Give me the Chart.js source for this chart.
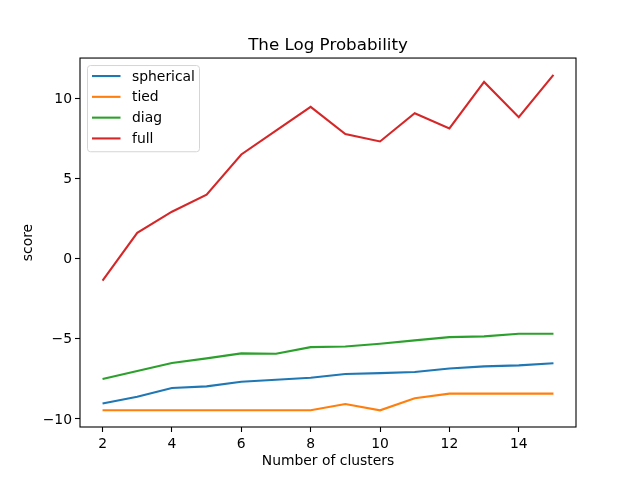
<!DOCTYPE html>
<html>
<head>
<meta charset="utf-8">
<script src="https://cdn.jsdelivr.net/npm/chart.js@4"></script>
<style>
  html, body { margin: 0; padding: 0; background: #fff; }
  canvas { display: block; }
</style>
</head>
<body>
<canvas id="chart" width="640" height="480"></canvas>
<script>
// number of clusters on x, log probability score per covariance type
const clusters = [2, 3, 4, 5, 6, 7, 8, 9, 10, 11, 12, 13, 14, 15];
const spherical = [-9.04, -8.61, -8.07, -7.97, -7.68, -7.55, -7.43, -7.20, -7.14, -7.07, -6.85, -6.72, -6.66, -6.53];
const tied = [-9.46, -9.46, -9.46, -9.46, -9.46, -9.46, -9.46, -9.07, -9.46, -8.71, -8.42, -8.42, -8.42, -8.42];
const diag = [-7.51, -7.01, -6.51, -6.22, -5.91, -5.93, -5.52, -5.48, -5.31, -5.10, -4.90, -4.85, -4.69, -4.69];
const full = [-1.37, 1.60, 2.92, 3.98, 6.49, 7.97, 9.46, 7.76, 7.30, 9.06, 8.11, 11.01, 8.81, 11.45];

const xTicks = [2, 4, 6, 8, 10, 12, 14];
const yTicks = [-10, -5, 0, 5, 10];

const FONT = 'DejaVu Sans';

function points(vals) {
  return clusters.map((c, i) => ({ x: c, y: vals[i] }));
}

function series(label, vals, color) {
  return {
    label: label,
    data: points(vals),
    borderColor: color,
    backgroundColor: color,
    borderWidth: 2.1,
    pointRadius: 0,
    tension: 0,
    fill: false
  };
}

// matplotlib style box around the axes
const frame = {
  id: 'frame',
  afterDraw(chart) {
    const { ctx, chartArea: a } = chart;
    ctx.save();
    ctx.strokeStyle = '#000';
    ctx.lineWidth = 1.1;
    ctx.strokeRect(a.left, a.top, a.right - a.left, a.bottom - a.top);
    ctx.restore();
  }
};

// legend inside the upper left corner
const innerLegend = {
  id: 'innerLegend',
  afterDraw(chart) {
    const { ctx, chartArea: a } = chart;
    const sets = chart.data.datasets;
    const x0 = a.left + 7.5, y0 = a.top + 7.5;
    const w = 112, rowH = 20.8, h = sets.length * rowH + 3;
    ctx.save();
    ctx.beginPath();
    ctx.roundRect(x0, y0, w, h, 3);
    ctx.fillStyle = 'rgba(255,255,255,0.8)';
    ctx.fill();
    ctx.strokeStyle = '#d5d5d5';
    ctx.lineWidth = 1;
    ctx.stroke();
    ctx.font = '13.9px "' + FONT + '"';
    ctx.textBaseline = 'middle';
    sets.forEach((ds, i) => {
      const y = y0 + 10.5 + i * rowH;
      ctx.strokeStyle = ds.borderColor;
      ctx.lineWidth = 2.1;
      ctx.beginPath();
      ctx.moveTo(x0 + 4.5, y);
      ctx.lineTo(x0 + 33, y);
      ctx.stroke();
      ctx.fillStyle = '#000';
      ctx.fillText(ds.label, x0 + 44.5, y + 1);
    });
    ctx.restore();
  }
};

const minus = v => String(v).replace('-', '\u2212');

new Chart(document.getElementById('chart'), {
  type: 'line',
  data: {
    datasets: [
      series('spherical', spherical, '#1f77b4'),
      series('tied', tied, '#ff7f0e'),
      series('diag', diag, '#2ca02c'),
      series('full', full, '#d62728')
    ]
  },
  options: {
    responsive: false,
    devicePixelRatio: 1,
    animation: false,
    layout: { padding: { left: 0, right: 64, top: 0, bottom: 0 } },
    plugins: {
      legend: { display: false },
      tooltip: { enabled: false },
      title: {
        display: true,
        text: 'The Log Probability',
        fullSize: false,
        color: '#000',
        font: { family: FONT, size: 16.7, weight: 'normal', lineHeight: 1.2 },
        padding: { top: 36, bottom: 2 }
      }
    },
    scales: {
      x: {
        type: 'linear',
        min: 1.35,
        max: 15.65,
        afterBuildTicks: s => { s.ticks = xTicks.map(v => ({ value: v })); },
        afterFit: s => { s.height = 53; },
        grid: { drawOnChartArea: false, drawTicks: true, tickLength: 5, tickColor: '#000', tickWidth: 1.1 },
        border: { display: false },
        ticks: { color: '#000', padding: 4, maxRotation: 0, font: { family: FONT, size: 13.9 }, callback: v => minus(v) },
        title: { display: true, text: 'Number of clusters', color: '#000', padding: { top: 0, bottom: 10 }, font: { family: FONT, size: 13.9, lineHeight: 1.2 } }
      },
      y: {
        type: 'linear',
        min: -10.5,
        max: 12.5,
        afterBuildTicks: s => { s.ticks = yTicks.map(v => ({ value: v })); },
        afterFit: s => { s.width = 80; },
        grid: { drawOnChartArea: false, drawTicks: true, tickLength: 5, tickColor: '#000', tickWidth: 1.1 },
        border: { display: false },
        ticks: { color: '#000', padding: 3, labelOffset: 1, font: { family: FONT, size: 13.9 }, callback: v => minus(v) },
        title: { display: true, text: 'score', color: '#000', padding: { top: 20, bottom: 0 }, font: { family: FONT, size: 13.9, lineHeight: 1.2 } }
      }
    }
  },
  plugins: [frame, innerLegend]
});
</script>
</body>
</html>
